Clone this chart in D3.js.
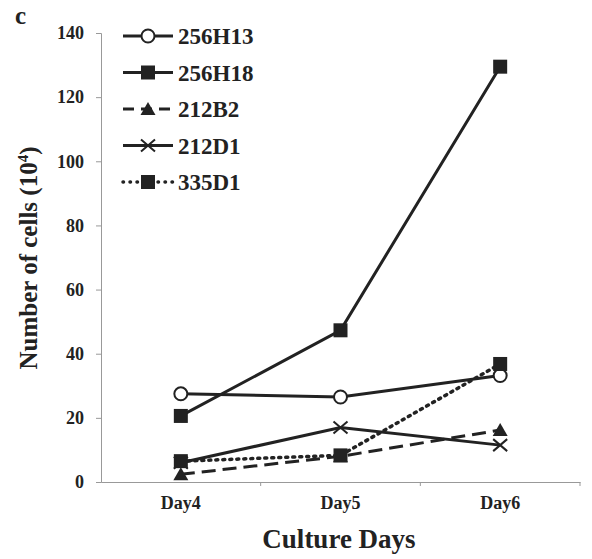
<!DOCTYPE html>
<html>
<head>
<meta charset="utf-8">
<script src="https://cdn.jsdelivr.net/npm/d3@7/dist/d3.min.js"></script>
<style>
body { margin: 0; background: #fff; }
text { font-family: "Liberation Serif", "Times New Roman", serif; font-weight: bold; fill: #222; }
</style>
</head>
<body>
<div id="chart"></div>
<script>
// dados
var days = ["Day4", "Day5", "Day6"];
var yTicks = [0, 20, 40, 60, 80, 100, 120, 140];
var s256H13 = [27.5, 26.5, 33.2];
var s256H18 = [20.6, 47.3, 129.5];
var s212B2 = [2.4, 8, 16.2];
var s212D1 = [6, 17, 11.5];
var s335D1 = [6.5, 8.3, 36.8];
var names = ["256H13", "256H18", "212B2", "212D1", "335D1"];
var markers = ["circle", "square", "triangle", "cross", "square"];
var dashes = [null, null, "14,7", null, "2,5"];

(function () {
	'use strict';
	var allSeries = [s256H13, s256H18, s212B2, s212D1, s335D1];
	var W = 592, H = 559;
	var margin = {top: 33, right: 12, bottom: 77, left: 101};
	var width = W - margin.left - margin.right;
	var height = H - margin.top - margin.bottom;

	var svg = d3.select("#chart").append("svg")
		.attr("width", W).attr("height", H);
	var g = svg.append("g")
		.attr("transform", "translate(" + margin.left + "," + margin.top + ")");

	//Escalas
	var x = d3.scaleBand().domain(days).range([0, width]);
	var y = d3.scaleLinear().domain([0, 140]).range([height, 0]);

	//Eixos
	var yAxis = g.append("g")
		.call(d3.axisLeft(y).tickValues(yTicks).tickSize(5).tickPadding(12));
	yAxis.selectAll("text").style("font-size", "18px");
	var xAxis = g.append("g")
		.attr("transform", "translate(0," + height + ")")
		.call(d3.axisBottom(x).tickSize(0).tickPadding(14));
	xAxis.selectAll("text").style("font-size", "18px");
	// ticks entre as categorias
	xAxis.selectAll(".sep")
		.data(days.slice(1).concat(["end"]))
		.enter().append("line")
		.attr("x1", function (d) { return d === "end" ? width : x(d); })
		.attr("x2", function (d) { return d === "end" ? width : x(d); })
		.attr("y1", 0).attr("y2", 4)
		.attr("stroke", "#999");
	g.selectAll(".domain, .tick line").attr("stroke", "#999");

	//Linhas
	var line = d3.line()
		.x(function (d, i) { return x(days[i]) + x.bandwidth() / 2; })
		.y(function (d) { return y(d); });

	function drawMarker(sel, type) {
		if (type === "circle") {
			sel.append("circle").attr("r", 6.5)
				.attr("fill", "#fff").attr("stroke", "#222").attr("stroke-width", 2);
		} else if (type === "square") {
			sel.append("rect").attr("x", -7).attr("y", -7).attr("width", 14).attr("height", 14)
				.attr("fill", "#222");
		} else if (type === "triangle") {
			sel.append("path").attr("d", "M0,-7L7.5,6L-7.5,6Z").attr("fill", "#222");
		} else if (type === "cross") {
			sel.append("path").attr("d", "M-7,-6L7,6M-7,6L7,-6")
				.attr("stroke", "#222").attr("stroke-width", 2).attr("fill", "none");
		}
	}

	allSeries.forEach(function (vals, k) {
		g.append("path")
			.datum(vals)
			.attr("d", line)
			.attr("fill", "none")
			.attr("stroke", "#222")
			.attr("stroke-width", dashes[k] === "2,5" ? 3.5 : 3)
			.attr("stroke-linecap", dashes[k] === "2,5" ? "round" : "butt")
			.attr("stroke-dasharray", dashes[k]);
	});
	allSeries.forEach(function (vals, k) {
		vals.forEach(function (v, i) {
			var m = g.append("g")
				.attr("transform", "translate(" + (x(days[i]) + x.bandwidth() / 2) + "," + y(v) + ")");
			drawMarker(m, markers[k]);
		});
	});

	//Legenda
	var leg = svg.append("g").attr("transform", "translate(123,36)");
	names.forEach(function (n, k) {
		var row = leg.append("g").attr("transform", "translate(0," + (k * 36.5) + ")");
		row.append("line")
			.attr("x1", 0).attr("x2", 50).attr("y1", 0).attr("y2", 0)
			.attr("stroke", "#222")
			.attr("stroke-width", dashes[k] === "2,5" ? 3.5 : 3)
			.attr("stroke-linecap", dashes[k] === "2,5" ? "round" : "butt")
			.attr("stroke-dasharray", dashes[k] === "14,7" ? "11,7" : (dashes[k] === "2,5" ? "0.5,6.5" : null));
		var m = row.append("g").attr("transform", "translate(25,0)");
		drawMarker(m, markers[k]);
		row.append("text")
			.attr("x", 55).attr("y", 8)
			.style("font-size", "23px")
			.text(n);
	});

	//Títulos
	svg.append("text").attr("x", 15).attr("y", 24).style("font-size", "25px").text("c");
	var yt = svg.append("text")
		.attr("transform", "translate(37,258) rotate(-90)")
		.attr("text-anchor", "middle")
		.style("font-size", "25px")
		.text("Number of cells (10");
	yt.append("tspan").attr("dy", "-9").style("font-size", "15px").text("4");
	yt.append("tspan").attr("dy", "9").text(")");
	svg.append("text")
		.attr("x", 339).attr("y", 548)
		.attr("text-anchor", "middle")
		.style("font-size", "27px")
		.text("Culture Days");
}());
</script>
</body>
</html>
